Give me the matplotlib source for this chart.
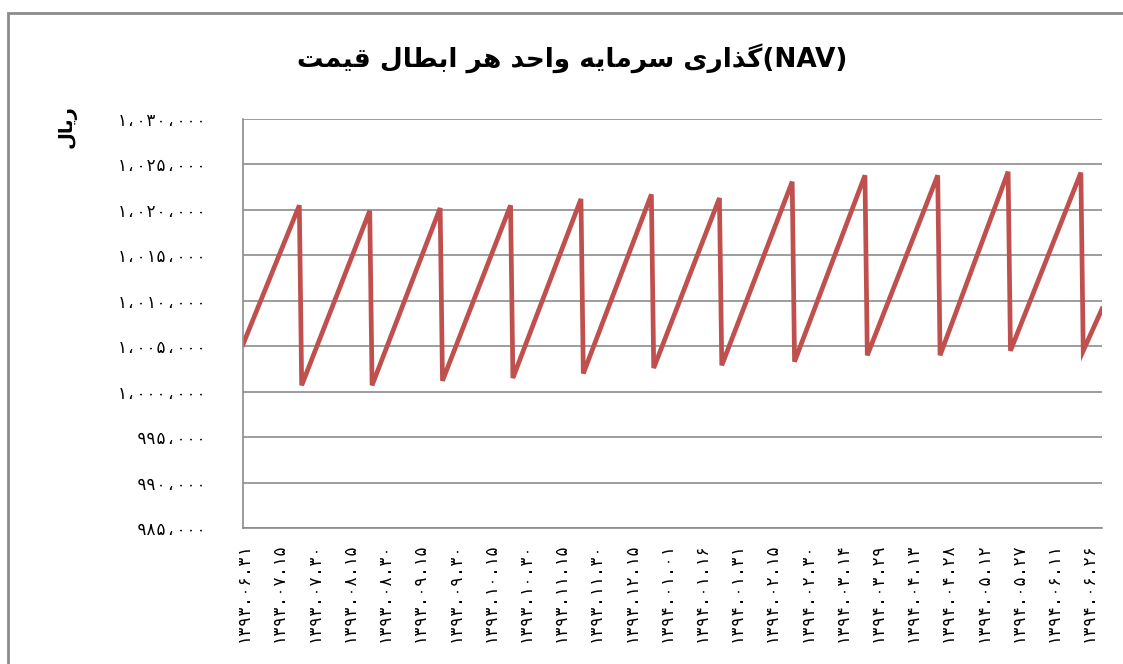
import re
import matplotlib
matplotlib.use("Agg")
import matplotlib.pyplot as plt
from matplotlib.patches import Rectangle

plt.rcParams['font.family'] = ['DejaVu Sans']

title = "قیمت ابطال هر واحد سرمایه گذاری(NAV)"
ylabel = "ریال"

# tick labels every 15 days (Persian calendar)
date_labels = ['1393.06.31', '1393.07.15', '1393.07.30', '1393.08.15', '1393.08.30',
               '1393.09.15', '1393.09.30', '1393.10.15', '1393.10.30', '1393.11.15',
               '1393.11.30', '1393.12.15', '1394.01.01', '1394.01.16', '1394.01.31',
               '1394.02.15', '1394.02.30', '1394.03.14', '1394.03.29', '1394.04.13',
               '1394.04.28', '1394.05.12', '1394.05.27', '1394.06.11', '1394.06.26']

# day index (from 1393.06.31) and NAV at the corners of the saw-tooth
days = [0, 24, 25, 54, 55, 84, 85, 114, 115, 144, 145, 174, 175,
        203, 204, 234, 235, 265, 266, 296, 297, 326, 327, 357, 358, 366]
nav = [1005200, 1020500, 1000700, 1019900, 1000700, 1020200, 1001200,
       1020500, 1001500, 1021200, 1002000, 1021700, 1002600,
       1021300, 1002900, 1023100, 1003300, 1023800, 1004000,
       1023800, 1004000, 1024200, 1004500, 1024100, 1004500, 1009100]

yticks = list(range(985000, 1030001, 5000))

FA = str.maketrans('0123456789', '۰۱۲۳۴۵۶۷۸۹')
NUM_FONT = ['DejaVu Sans Mono', 'DejaVu Sans']

# presentation forms: isolated, final, initial, medial
FORMS = {
    'ا': ('\uFE8D', '\uFE8E', None, None),
    'ب': ('\uFE8F', '\uFE90', '\uFE91', '\uFE92'),
    'ت': ('\uFE95', '\uFE96', '\uFE97', '\uFE98'),
    'ح': ('\uFEA1', '\uFEA2', '\uFEA3', '\uFEA4'),
    'د': ('\uFEA9', '\uFEAA', None, None),
    'ذ': ('\uFEAB', '\uFEAC', None, None),
    'ر': ('\uFEAD', '\uFEAE', None, None),
    'س': ('\uFEB1', '\uFEB2', '\uFEB3', '\uFEB4'),
    'ط': ('\uFEC1', '\uFEC2', '\uFEC3', '\uFEC4'),
    'ق': ('\uFED5', '\uFED6', '\uFED7', '\uFED8'),
    'ل': ('\uFEDD', '\uFEDE', '\uFEDF', '\uFEE0'),
    'م': ('\uFEE1', '\uFEE2', '\uFEE3', '\uFEE4'),
    'ه': ('\uFEE9', '\uFEEA', '\uFEEB', '\uFEEC'),
    'و': ('\uFEED', '\uFEEE', None, None),
    'ی': ('\uFBFC', '\uFBFD', '\uFBFE', '\uFBFF'),
    'گ': ('\uFB92', '\uFB93', '\uFB94', '\uFB95'),
}


def shape(word):
    # pick joined forms, then lay the word out right-to-left
    out = []
    for i, ch in enumerate(word):
        iso, fin, ini, med = FORMS[ch]
        prev_j = i > 0 and FORMS[word[i - 1]][2] is not None
        next_j = i < len(word) - 1 and ini is not None
        if prev_j and next_j:
            out.append(med)
        elif prev_j:
            out.append(fin)
        elif next_j:
            out.append(ini)
        else:
            out.append(iso)
    return ''.join(reversed(out))


def visual(text):
    return re.sub('[' + ''.join(FORMS) + ']+', lambda m: shape(m.group()), text)


def fa_num(v):
    return f"{v:,}".replace(',', '،').translate(FA)


fig = plt.figure(figsize=(11.23, 6.64), dpi=100)
ax = fig.add_axes([243 / 1123, 1 - 528 / 664, 859 / 1123, 409 / 664])

ax.plot(days, nav, color='#C0504D', lw=3.4, solid_joinstyle='miter')

ax.set_xlim(0, 366)
ax.set_ylim(985000, 1030000)
ax.set_yticks(yticks)
ax.set_yticklabels([fa_num(v) for v in yticks], fontsize=12, family=NUM_FONT)
ax.set_xticks(range(0, 15 * len(date_labels), 15))
ax.set_xticklabels([d.translate(FA) for d in date_labels], rotation=90,
                   fontsize=12, family=NUM_FONT, va='top', ha='center')
ax.tick_params(axis='both', length=0)
ax.tick_params(axis='y', pad=26)
ax.tick_params(axis='x', pad=10)

ax.grid(axis='y', color='#8c8c8c', lw=1.2)
ax.set_axisbelow(True)
for s in ['top', 'right']:
    ax.spines[s].set_visible(False)
for s in ['left', 'bottom']:
    ax.spines[s].set_color('#8c8c8c')
    ax.spines[s].set_linewidth(1.2)

fig.text(572 / 1123, 1 - 58 / 664, visual(title), ha='center', va='center',
         fontsize=19, fontweight='bold')
fig.text(67 / 1123, 1 - 127 / 664, visual(ylabel), ha='center', va='center',
         rotation=90, fontsize=14, fontweight='bold')

# outer chart frame
fig.patches.append(Rectangle((8 / 1123, -0.1), 1.2, 1.1 - 13 / 664, fill=False,
                             edgecolor='#8c8c8c', lw=2, transform=fig.transFigure,
                             figure=fig))

fig.savefig('out.png', dpi=100)
